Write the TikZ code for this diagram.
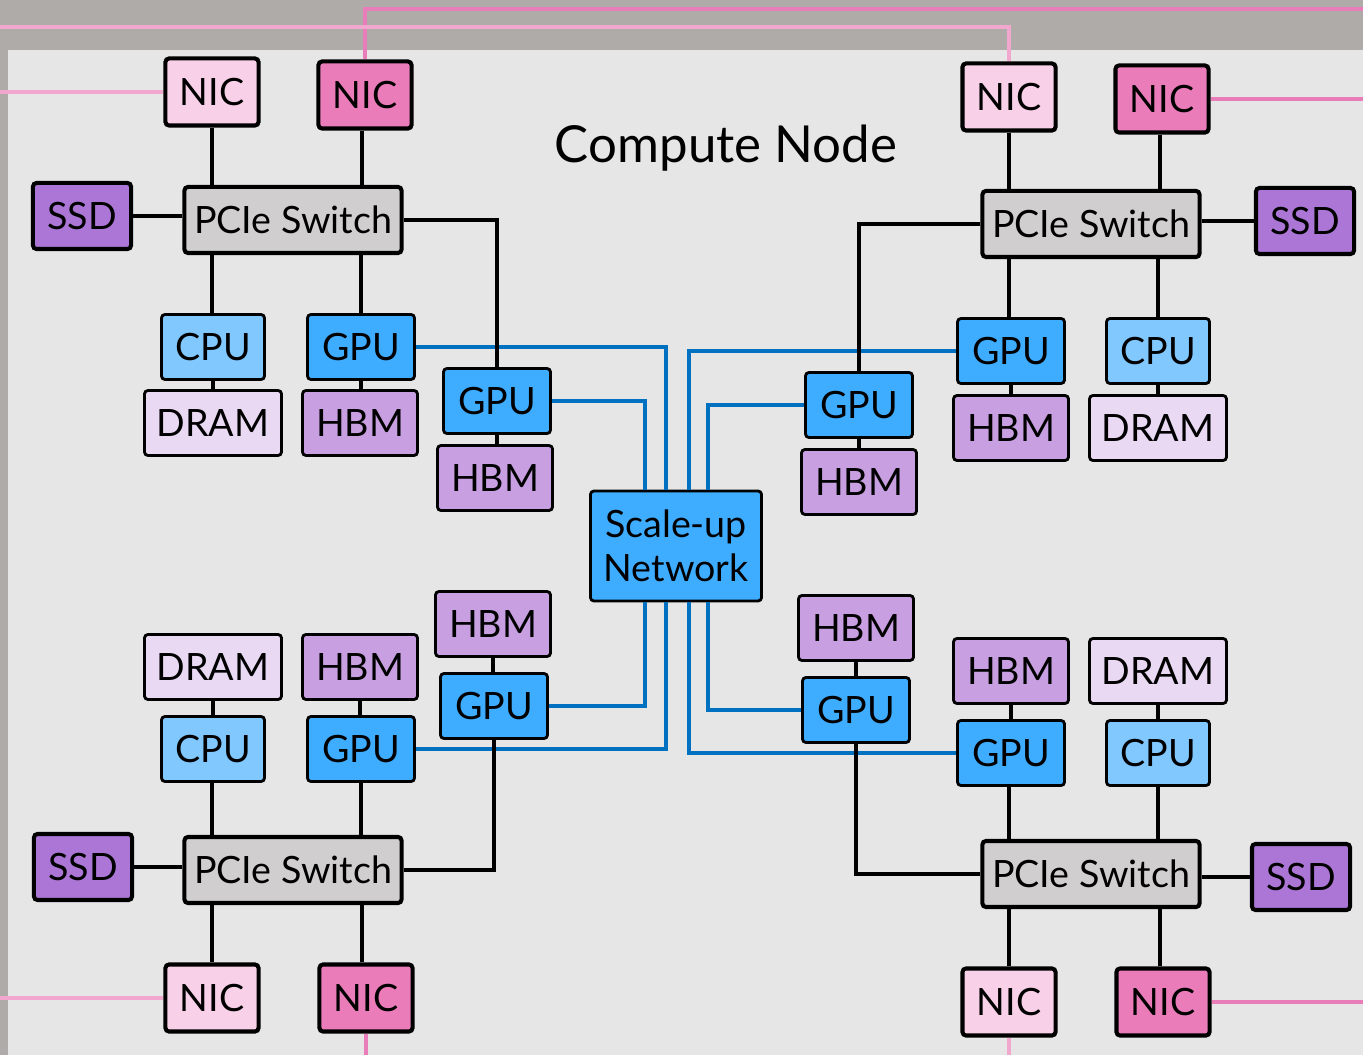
\documentclass[tikz,border=0pt]{standalone}
\usepackage{fontspec}
\setmainfont{Lato}
\usepackage{tikz}
\usepackage{xcolor}

\definecolor{outergray}{HTML}{AFABA9}
\definecolor{innergray}{HTML}{E6E6E6}
\definecolor{nicl}{HTML}{F8D1E8}
\definecolor{nicd}{HTML}{E97CB9}
\definecolor{ssdc}{HTML}{AB76D6}
\definecolor{pciec}{HTML}{D0CECE}
\definecolor{cpuc}{HTML}{81C8FF}
\definecolor{gpuc}{HTML}{3FADFF}
\definecolor{dramc}{HTML}{E9D9F3}
\definecolor{hbmc}{HTML}{C8A0E2}
\definecolor{linkblue}{HTML}{0070C0}
\definecolor{pinkl}{HTML}{F2A7CF}
\definecolor{pinkd}{HTML}{E87DB9}

\begin{document}
\begin{tikzpicture}[
    x=0.01cm, y=-0.01cm,
    box/.style={draw, line width=1.15pt, rounded corners=1pt, inner sep=0pt, font=\fontsize{10.7}{12.5}\selectfont},
    thinbox/.style={box, line width=0.8pt, minimum height=0.65cm},
    nic/.style={box, minimum width=0.93cm, minimum height=0.67cm},
    ssd/.style={box, fill=ssdc, minimum width=0.98cm, minimum height=0.66cm},
    pcie/.style={box, fill=pciec, minimum width=2.17cm, minimum height=0.66cm},
    cpu/.style={thinbox, fill=cpuc, minimum width=1.03cm},
    gpu/.style={thinbox, fill=gpuc, minimum width=1.07cm},
    dram/.style={thinbox, fill=dramc, minimum width=1.37cm},
    hbm/.style={thinbox, fill=hbmc, minimum width=1.15cm},
    wire/.style={line width=0.9pt},
    link/.style={line width=0.9pt, linkblue},
    net/.style={line width=0.9pt}
]

% 背景
\useasboundingbox (0,0) rectangle (1363,1055);
\fill[outergray] (0,0) rectangle (1363,1055);
\fill[innergray] (8,50) rectangle (1363,1055);
\node[font=\fontsize{14.5}{17}\selectfont] (title) at (726,148) {Compute Node};

% 左上
\node[nic, fill=nicl] (NICa1) at (212,92) {NIC};
\node[nic, fill=nicd] (NICb1) at (365,95) {NIC};
\node[ssd] (SSD1) at (82,216) {SSD};
\node[pcie] (SW1) at (293,220) {PCIe Switch};
\node[cpu] (CPU1) at (213,347) {CPU};
\node[gpu] (GPU1) at (361,347) {GPU};
\node[dram] (DRAM1) at (213,423) {DRAM};
\node[hbm] (HBM1) at (360,423) {HBM};
\node[gpu] (GPUx1) at (497,401) {GPU};
\node[hbm] (HBMx1) at (495,478) {HBM};

% 右上
\node[nic, fill=nicl] (NICa2) at (1009,97) {NIC};
\node[nic, fill=nicd] (NICb2) at (1162,99) {NIC};
\node[pcie] (SW2) at (1091,224) {PCIe Switch};
\node[ssd] (SSD2) at (1305,221) {SSD};
\node[gpu] (GPU2) at (1011,351) {GPU};
\node[cpu] (CPU2) at (1158,351) {CPU};
\node[hbm] (HBM2) at (1011,428) {HBM};
\node[dram] (DRAM2) at (1158,428) {DRAM};
\node[gpu] (GPUx2) at (859,405) {GPU};
\node[hbm] (HBMx2) at (859,482) {HBM};

% 左下
\node[dram] (DRAM3) at (213,667) {DRAM};
\node[hbm] (HBM3) at (360,667) {HBM};
\node[hbm] (HBMx3) at (493,624) {HBM};
\node[gpu] (GPUx3) at (494,706) {GPU};
\node[cpu] (CPU3) at (213,749) {CPU};
\node[gpu] (GPU3) at (361,749) {GPU};
\node[ssd] (SSD3) at (83,867) {SSD};
\node[pcie] (SW3) at (293,870) {PCIe Switch};
\node[nic, fill=nicl] (NICa3) at (212,998) {NIC};
\node[nic, fill=nicd] (NICb3) at (366,998) {NIC};

% 右下
\node[hbm] (HBMx4) at (856,628) {HBM};
\node[hbm] (HBM4) at (1011,671) {HBM};
\node[dram] (DRAM4) at (1158,671) {DRAM};
\node[gpu] (GPUx4) at (856,710) {GPU};
\node[gpu] (GPU4) at (1011,753) {GPU};
\node[cpu] (CPU4) at (1158,753) {CPU};
\node[pcie] (SW4) at (1091,874) {PCIe Switch};
\node[ssd] (SSD4) at (1301,877) {SSD};
\node[nic, fill=nicl] (NICa4) at (1009,1002) {NIC};
\node[nic, fill=nicd] (NICb4) at (1163,1002) {NIC};

% 中间
\node[box, line width=0.8pt, fill=gpuc, minimum width=1.71cm, minimum height=1.10cm, align=center] (SU) at (676,546) {Scale-up\\Network};

% 外部网络
\coordinate (topd) at (1363,9);
\coordinate (topl) at (0,27);
\draw[net, pinkd] (NICb1.north) |- (topd);
\draw[net, pinkl] (topl) -| (NICa2.north);
\draw[net, pinkl] (NICa1.west) -- (NICa1.west -| topl);
\draw[net, pinkd] (NICb2.east) -- (NICb2.east -| topd);
\draw[net, pinkl] (NICa3.west) -- (NICa3.west -| topl);
\draw[net, pinkd] (NICb3.south) -- ++(0,30);
\draw[net, pinkl] (NICa4.south) -- ++(0,25);
\draw[net, pinkd] (NICb4.east) -- (NICb4.east -| topd);

% Scale-up 连线
\draw[link] (GPU1.east) -| ([xshift=-0.10cm]SU.north);
\draw[link] (GPUx1.east) -| ([xshift=-0.31cm]SU.north);
\draw[link] (GPU2.west) -| ([xshift=0.13cm]SU.north);
\draw[link] (GPUx2.west) -| ([xshift=0.32cm]SU.north);
\draw[link] (GPUx3.east) -| ([xshift=-0.31cm]SU.south);
\draw[link] (GPU3.east) -| ([xshift=-0.10cm]SU.south);
\draw[link] (GPUx4.west) -| ([xshift=0.32cm]SU.south);
\draw[link] (GPU4.west) -| ([xshift=0.13cm]SU.south);

% PCIe 连线
\draw[wire] (NICa1.south) -- (NICa1.south |- SW1.north);
\draw[wire] ([xshift=-0.03cm]NICb1.south) -- ([xshift=-0.03cm]NICb1.south |- SW1.north);
\draw[wire] (SSD1.east) -- (SSD1.east -| SW1.west);
\draw[wire] (CPU1.north -| NICa1.south) -- (NICa1.south |- SW1.south);
\draw[wire] (GPU1.north) -- (GPU1.north |- SW1.south);
\draw[wire] (CPU1.south) -- (CPU1.south |- DRAM1.north);
\draw[wire] (GPU1.south) -- (GPU1.south |- HBM1.north);
\draw[wire] (SW1.east) -| (GPUx1.north);
\draw[wire] (GPUx1.south) -- (GPUx1.south |- HBMx1.north);

\draw[wire] (NICa2.south) -- (NICa2.south |- SW2.north);
\draw[wire] ([xshift=-0.02cm]NICb2.south) -- ([xshift=-0.02cm]NICb2.south |- SW2.north);
\draw[wire] (SSD2.west) -- (SSD2.west -| SW2.east);
\draw[wire] ([xshift=-0.02cm]GPU2.north) -- ([xshift=-0.02cm]GPU2.north |- SW2.south);
\draw[wire] (CPU2.north) -- (CPU2.north |- SW2.south);
\draw[wire] (GPU2.south) -- (GPU2.south |- HBM2.north);
\draw[wire] (CPU2.south) -- (CPU2.south |- DRAM2.north);
\draw[wire] (SW2.west) -| (GPUx2.north);
\draw[wire] (GPUx2.south) -- (GPUx2.south |- HBMx2.north);

\draw[wire] (DRAM3.south) -- (DRAM3.south |- CPU3.north);
\draw[wire] (HBM3.south) -- (HBM3.south |- GPU3.north);
\draw[wire] (HBMx3.south) -- (HBMx3.south |- GPUx3.north);
\draw[wire] ([xshift=-0.01cm]CPU3.south) -- ([xshift=-0.01cm]CPU3.south |- SW3.north);
\draw[wire] (GPU3.south) -- (GPU3.south |- SW3.north);
\draw[wire] (SSD3.east) -- (SSD3.east -| SW3.west);
\draw[wire] (SW3.east) -| (GPUx3.south);
\draw[wire] (NICa3.north) -- (NICa3.north |- SW3.south);
\draw[wire] ([xshift=-0.04cm]NICb3.north) -- ([xshift=-0.04cm]NICb3.north |- SW3.south);

\draw[wire] (HBMx4.south) -- (HBMx4.south |- GPUx4.north);
\draw[wire] (HBM4.south) -- (HBM4.south |- GPU4.north);
\draw[wire] (DRAM4.south) -- (DRAM4.south |- CPU4.north);
\draw[wire] ([xshift=-0.02cm]GPU4.south) -- ([xshift=-0.02cm]GPU4.south |- SW4.north);
\draw[wire] (CPU4.south) -- (CPU4.south |- SW4.north);
\draw[wire] (SSD4.west) -- (SSD4.west -| SW4.east);
\draw[wire] (SW4.west) -| (GPUx4.south);
\draw[wire] (NICa4.north) -- (NICa4.north |- SW4.south);
\draw[wire] ([xshift=-0.03cm]NICb4.north) -- ([xshift=-0.03cm]NICb4.north |- SW4.south);

\end{tikzpicture}
\end{document}
